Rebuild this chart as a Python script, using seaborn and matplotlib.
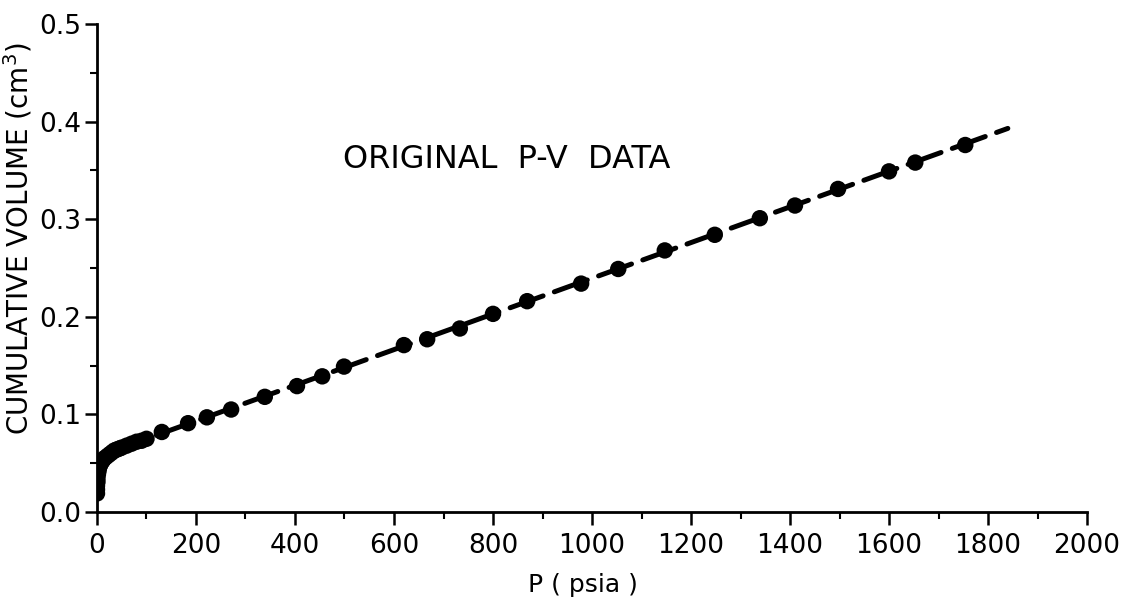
import numpy as np
import pandas as pd
import matplotlib
matplotlib.use("Agg")
import matplotlib.pyplot as plt
import seaborn as sns
from matplotlib.ticker import MultipleLocator

# ---- data ----
pressure_psia = [0, 0, 0, 1, 1, 2, 3, 4, 5, 7, 9, 12, 15, 20, 25, 30, 35, 40, 45, 50,
                 60, 70, 80, 90, 100,
                 131, 184, 222, 271, 339, 404, 455, 499, 620, 667, 733, 800, 869,
                 978, 1053, 1147, 1248, 1339, 1410, 1497, 1600, 1653, 1754]
cum_volume_cm3 = [0.019, 0.023, 0.027, 0.031, 0.035, 0.039, 0.042, 0.045, 0.047, 0.049,
                  0.051, 0.053, 0.055, 0.057, 0.059, 0.061, 0.063, 0.064, 0.065, 0.066,
                  0.068, 0.070, 0.072, 0.073, 0.075,
                  0.082, 0.091, 0.097, 0.105, 0.118, 0.129, 0.139, 0.149, 0.171, 0.177,
                  0.188, 0.203, 0.216, 0.234, 0.249, 0.268, 0.284, 0.301, 0.314, 0.331,
                  0.349, 0.358, 0.376]
# dashed curve through the data, extended past the last point
curve_p = [0, 1, 3, 7, 15, 30, 50, 100, 1840]
curve_v = [0.019, 0.031, 0.042, 0.049, 0.055, 0.061, 0.066, 0.075, 0.393]

x_ticks = [0, 200, 400, 600, 800, 1000, 1200, 1400, 1600, 1800, 2000]
y_ticks = [0.0, 0.1, 0.2, 0.3, 0.4, 0.5]
y_tick_labels = ["0.0", "0.1", "0.2", "0.3", "0.4", "0.5"]

pts = pd.DataFrame({"P": pressure_psia, "V": cum_volume_cm3})
curve = pd.DataFrame({"P": curve_p, "V": curve_v})

sns.set_theme(style="ticks")
plt.rcParams["font.family"] = ["DejaVu Sans"]
plt.rcParams["text.color"] = "black"
plt.rcParams["axes.labelcolor"] = "black"
plt.rcParams["xtick.color"] = "black"
plt.rcParams["ytick.color"] = "black"

fig = plt.figure(figsize=(11.41, 6.04), dpi=100)
ax = fig.add_axes([0.085, 0.1523, 0.8677, 0.8080])

sns.lineplot(data=curve, x="P", y="V", color="black", linewidth=3.6,
             sort=False, estimator=None, legend=False, ax=ax)
for ln in ax.get_lines():
    ln.set_linestyle((0, (7.0, 2.4)))
    ln.set_dash_capstyle("round")
sns.scatterplot(data=pts, x="P", y="V", color="black", s=140, edgecolor="none",
                linewidth=0, ax=ax, zorder=5)

ax.set_xlim(0, 2000)
ax.set_ylim(0, 0.5)
ax.set_xticks(x_ticks)
ax.set_xticklabels([str(t) for t in x_ticks])
ax.set_yticks(y_ticks)
ax.set_yticklabels(y_tick_labels)
ax.xaxis.set_minor_locator(MultipleLocator(100))
ax.yaxis.set_minor_locator(MultipleLocator(0.05))

ax.spines["top"].set_visible(False)
ax.spines["right"].set_visible(False)
for sp in ["left", "bottom"]:
    ax.spines[sp].set_linewidth(2.0)
    ax.spines[sp].set_color("black")

ax.tick_params(axis="both", which="major", direction="out", length=9, width=1.8,
               colors="black", labelsize=19)
ax.tick_params(axis="both", which="minor", direction="out", length=5, width=1.5,
               colors="black")
ax.tick_params(axis="x", which="major", pad=6)
ax.tick_params(axis="y", which="major", pad=2)

ax.set_xlabel("P ( psia )", fontsize=18, color="black")
ax.set_ylabel("CUMULATIVE VOLUME (cm$^3$)", fontsize=20, color="black")
ax.xaxis.set_label_coords(0.491, -0.125)
ax.yaxis.set_label_coords(-0.063, 0.56)

ax.text(497, 0.361, "ORIGINAL  P-V  DATA", fontsize=23, ha="left", va="center",
        color="black")

fig.savefig("out.png", dpi=100, facecolor="white")
